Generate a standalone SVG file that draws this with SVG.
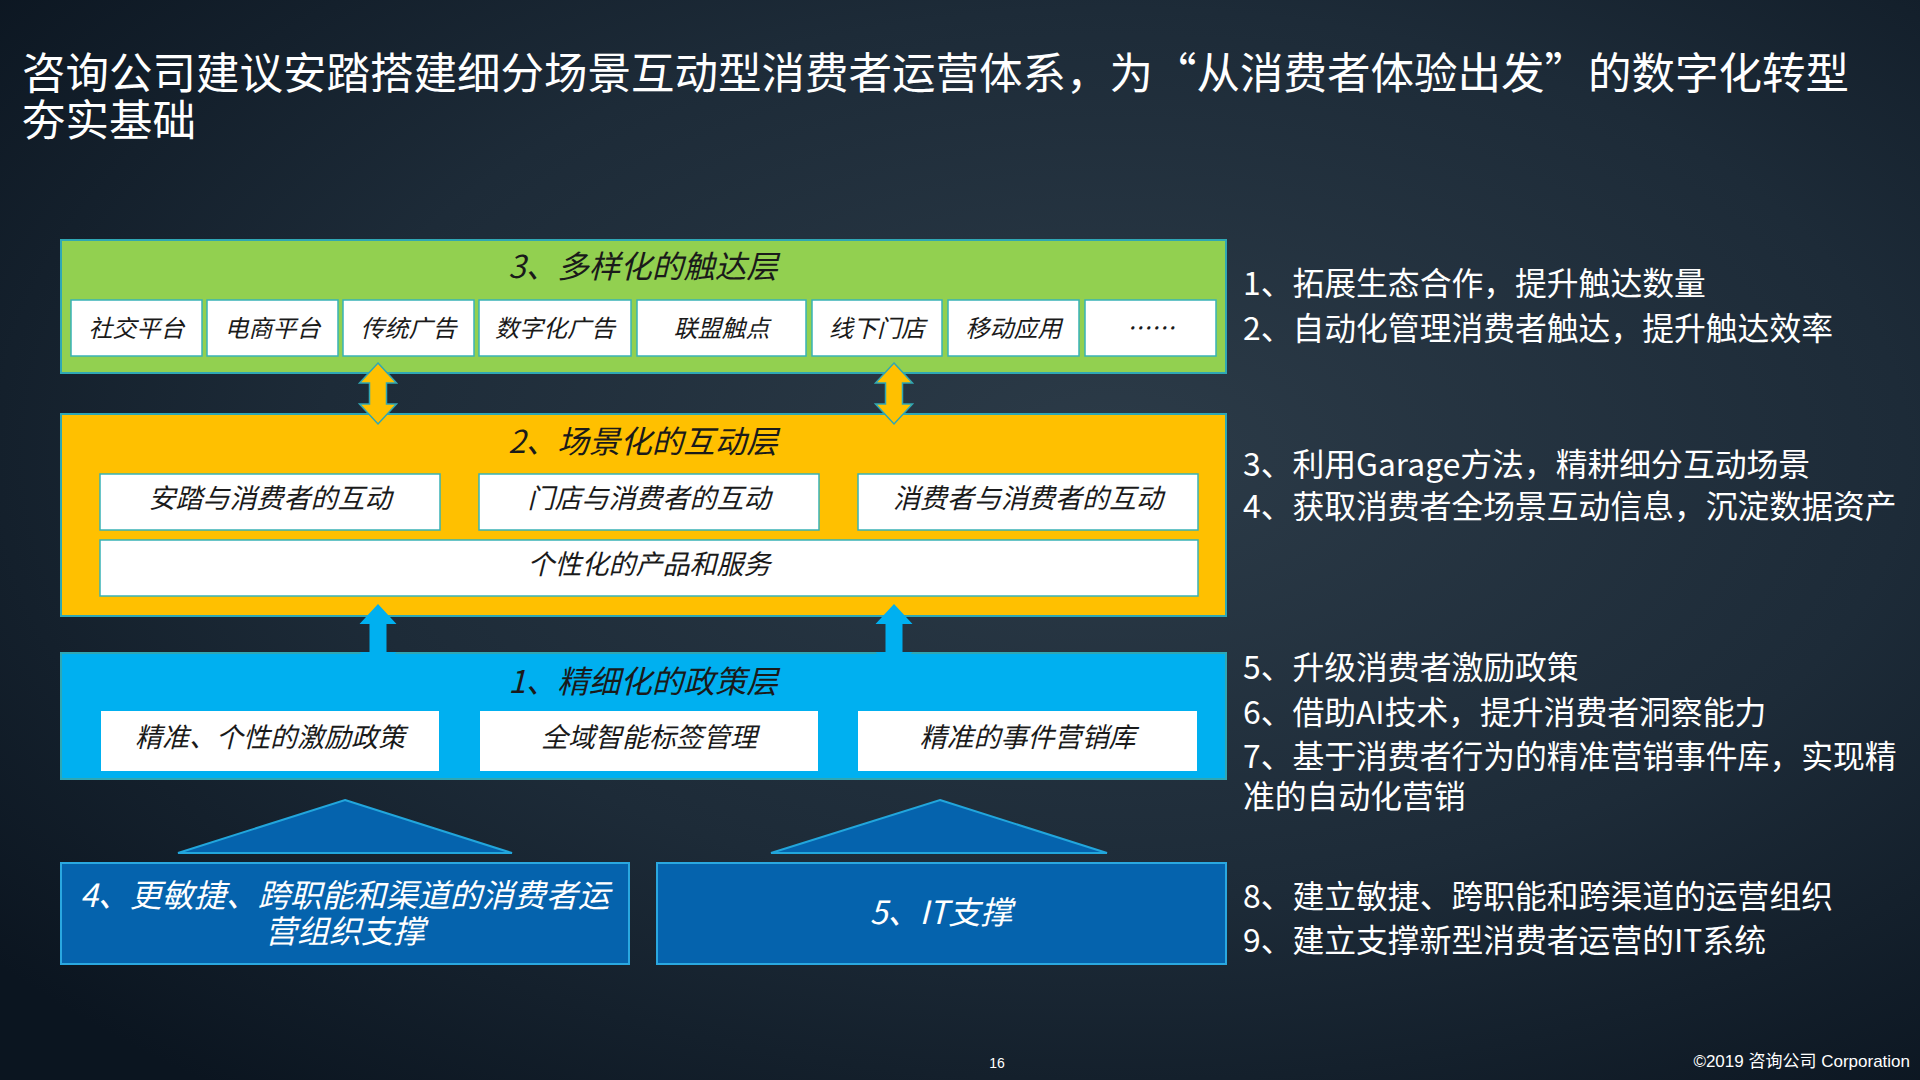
<svg xmlns="http://www.w3.org/2000/svg" width="1920" height="1080" viewBox="0 0 1920 1080">
<defs>
<radialGradient id="bg" cx="0.58" cy="0.42" r="0.75">
<stop offset="0" stop-color="#2c3b48"/>
<stop offset="0.55" stop-color="#1d2b38"/>
<stop offset="1" stop-color="#0b1520"/>
</radialGradient>
<path id="arrO" d="M0,0 L18.5,20 L8.5,20 L8.5,41 L18.5,41 L0,61 L-18.5,41 L-8.5,41 L-8.5,20 L-18.5,20 Z"/>
<path id="arrB" d="M0,0 L18.5,20 L8.5,20 L8.5,48 L18.5,48 L0,68 L-18.5,48 L-8.5,48 L-8.5,20 L-18.5,20 Z"/>
</defs>
<style>
.cjk{font-family:"Noto Sans CJK SC","Noto Sans",sans-serif;}
.title{fill:#ffffff;font-size:43.5px;}
.layer{stroke:#2fa7b4;stroke-width:2;}
.ltitle{fill:#1a1a1a;font-size:31.5px;font-style:italic;text-anchor:middle;}
.wbox{fill:#ffffff;stroke:#38b2b6;stroke-width:1.5;}
.btxt{fill:#1a1a1a;font-style:italic;text-anchor:middle;}
.side{fill:#ffffff;font-size:31.8px;}
.dbox{fill:#0563ad;stroke:#2aa8e0;stroke-width:2;}
.dtxt{fill:#ffffff;font-size:32px;font-style:italic;text-anchor:middle;}
</style>
<rect x="0" y="0" width="1920" height="1080" fill="url(#bg)"/>

<g id="title" class="cjk">
<text class="title" x="22" y="89">咨询公司建议安踏搭建细分场景互动型消费者运营体系，为“从消费者体验出发”的数字化转型</text>
<text class="title" x="22" y="136">夯实基础</text>
</g>

<g id="layer3" class="cjk">
<rect class="layer" x="61" y="240" width="1165" height="133" fill="#92d050"/>
<text class="ltitle" x="643" y="278">3、多样化的触达层</text>
<g font-size="24">
<rect class="wbox" x="71" y="300" width="131" height="56"/><text class="btxt" x="136.5" y="337">社交平台</text>
<rect class="wbox" x="207" y="300" width="131" height="56"/><text class="btxt" x="272.5" y="337">电商平台</text>
<rect class="wbox" x="343" y="300" width="131" height="56"/><text class="btxt" x="408.5" y="337">传统广告</text>
<rect class="wbox" x="479" y="300" width="152" height="56"/><text class="btxt" x="555" y="337">数字化广告</text>
<rect class="wbox" x="637" y="300" width="169" height="56"/><text class="btxt" x="721.5" y="337">联盟触点</text>
<rect class="wbox" x="812" y="300" width="130" height="56"/><text class="btxt" x="877" y="337">线下门店</text>
<rect class="wbox" x="948" y="300" width="131" height="56"/><text class="btxt" x="1013.5" y="337">移动应用</text>
<rect class="wbox" x="1085" y="300" width="131" height="56"/><text class="btxt" x="1150.5" y="337">……</text>
</g>
</g>

<g id="layer2" class="cjk">
<rect class="layer" x="61" y="414" width="1165" height="202" fill="#ffc000"/>
<text class="ltitle" x="643" y="453">2、场景化的互动层</text>
<g font-size="27">
<rect class="wbox" x="100" y="474" width="340" height="56"/><text class="btxt" x="270" y="508">安踏与消费者的互动</text>
<rect class="wbox" x="479" y="474" width="340" height="56"/><text class="btxt" x="649" y="508">门店与消费者的互动</text>
<rect class="wbox" x="858" y="474" width="340" height="56"/><text class="btxt" x="1028" y="508">消费者与消费者的互动</text>
<rect class="wbox" x="100" y="540" width="1098" height="56"/><text class="btxt" x="649" y="574">个性化的产品和服务</text>
</g>
</g>

<g id="layer1" class="cjk">
<rect class="layer" x="61" y="653" width="1165" height="126" fill="#00b0f0"/>
<text class="ltitle" x="643" y="693">1、精细化的政策层</text>
<g font-size="27">
<rect x="101" y="711" width="338" height="60" fill="#ffffff"/><text class="btxt" x="270" y="747">精准、个性的激励政策</text>
<rect x="480" y="711" width="338" height="60" fill="#ffffff"/><text class="btxt" x="649" y="747">全域智能标签管理</text>
<rect x="858" y="711" width="339" height="60" fill="#ffffff"/><text class="btxt" x="1027.5" y="747">精准的事件营销库</text>
</g>
</g>

<g id="org" class="cjk">
<rect class="dbox" x="61" y="863" width="568" height="101"/>
<text class="dtxt" x="345" y="907">4、更敏捷、跨职能和渠道的消费者运</text>
<text class="dtxt" x="345" y="943">营组织支撑</text>
</g>

<g id="it" class="cjk">
<rect class="dbox" x="657" y="863" width="569" height="101"/>
<text class="dtxt" x="941" y="924">5、IT支撑</text>
</g>

<g id="connectors">
<use href="#arrO" x="378" y="363" fill="#ffc000" stroke="#2fa7b4" stroke-width="1.5"/>
<use href="#arrO" x="894" y="363" fill="#ffc000" stroke="#2fa7b4" stroke-width="1.5"/>
<use href="#arrB" x="378" y="604" fill="#00b0f0"/>
<use href="#arrB" x="894" y="604" fill="#00b0f0"/>
<polygon points="345,800 512,853 178,853" fill="#0563ad" stroke="#22a6dc" stroke-width="2"/>
<polygon points="940,800 1107,853 771,853" fill="#0563ad" stroke="#22a6dc" stroke-width="2"/>
</g>

<g id="notes" class="cjk">
<text class="side" x="1243" y="295">1、拓展生态合作，提升触达数量</text>
<text class="side" x="1243" y="340">2、自动化管理消费者触达，提升触达效率</text>
<text class="side" x="1243" y="476">3、利用Garage方法，精耕细分互动场景</text>
<text class="side" x="1243" y="518">4、获取消费者全场景互动信息，沉淀数据资产</text>
<text class="side" x="1243" y="679">5、升级消费者激励政策</text>
<text class="side" x="1243" y="724">6、借助AI技术，提升消费者洞察能力</text>
<text class="side" x="1243" y="768">7、基于消费者行为的精准营销事件库，实现精</text>
<text class="side" x="1243" y="808">准的自动化营销</text>
<text class="side" x="1243" y="908">8、建立敏捷、跨职能和跨渠道的运营组织</text>
<text class="side" x="1243" y="952">9、建立支撑新型消费者运营的IT系统</text>
</g>

<g id="footer">
<text x="997" y="1068" font-family="Liberation Sans, sans-serif" font-size="14" fill="#ffffff" text-anchor="middle">16</text>
<text x="1910" y="1067" font-family="'Liberation Sans','Noto Sans CJK SC',sans-serif" font-size="17" fill="#ffffff" text-anchor="end">©2019 咨询公司 Corporation</text>
</g>
</svg>
